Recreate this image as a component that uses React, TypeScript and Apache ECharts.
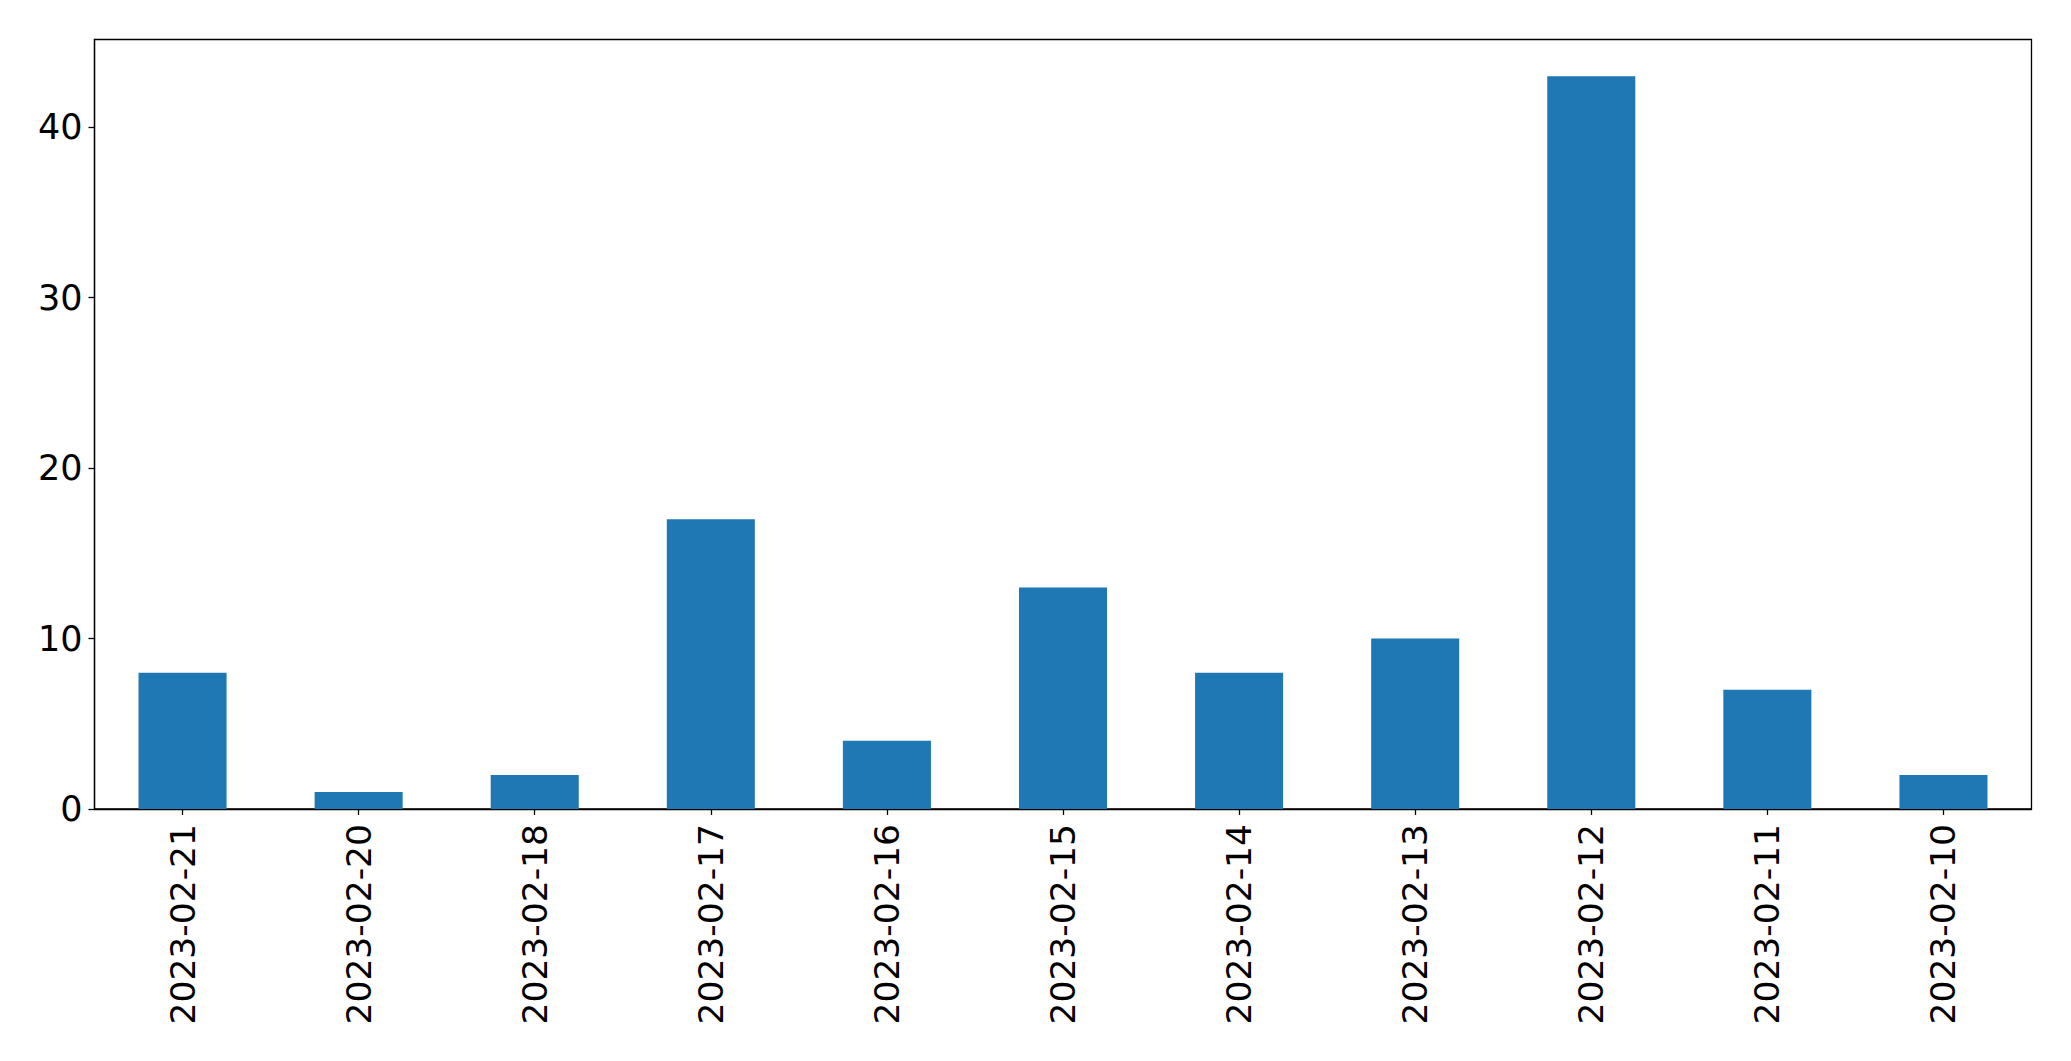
import React, { useEffect, useRef } from "react";
import * as echarts from "echarts";

const categories = [
  "2023-02-21", "2023-02-20", "2023-02-18", "2023-02-17", "2023-02-16", "2023-02-15",
  "2023-02-14", "2023-02-13", "2023-02-12", "2023-02-11", "2023-02-10",
];
const counts = [8, 1, 2, 17, 4, 13, 8, 10, 43, 7, 2];
const yTicks = [0, 10, 20, 30, 40];

export default function App() {
  const ref = useRef<HTMLDivElement>(null);
  useEffect(() => {
    if (!ref.current) return;
    const chart = echarts.init(ref.current, null, { renderer: "svg" });
    const font = "'DejaVu Sans', sans-serif";
    chart.setOption({
      animation: false,
      backgroundColor: "#ffffff",
      grid: {
        left: 94.5,
        top: 39.5,
        right: 39.5,
        bottom: 252,
        show: true,
        borderColor: "#000000",
        borderWidth: 1.3,
        containLabel: false,
      },
      xAxis: {
        type: "category",
        data: categories,
        boundaryGap: true,
        axisLine: { show: true, lineStyle: { color: "#000", width: 1.3 } },
        axisTick: { show: true, alignWithLabel: true, length: 6, lineStyle: { color: "#000", width: 1.3 } },
        axisLabel: {
          rotate: 90,
          margin: 15,
          color: "#000",
          fontSize: 34.5,
          fontFamily: font,
          interval: 0,
        },
        splitLine: { show: false },
      },
      yAxis: {
        type: "value",
        min: 0,
        max: 45.15,
        interval: 10,
        axisLine: { show: true, lineStyle: { color: "#000", width: 1.3 } },
        axisTick: { show: true, length: 6, lineStyle: { color: "#000", width: 1.3 }, customValues: yTicks },
        axisLabel: {
          margin: 12,
          color: "#000",
          fontSize: 35,
          fontFamily: font,
          customValues: yTicks,
        },
        splitLine: { show: false },
      },
      series: [
        {
          type: "bar",
          data: counts,
          barWidth: "50%",
          itemStyle: { color: "#1f77b4" },
        },
      ],
    });
    return () => chart.dispose();
  }, []);
  return (
    <div
      ref={ref}
      style={{ position: "fixed", left: 0, top: 0, width: 2071, height: 1061, background: "#fff" }}
    />
  );
}
